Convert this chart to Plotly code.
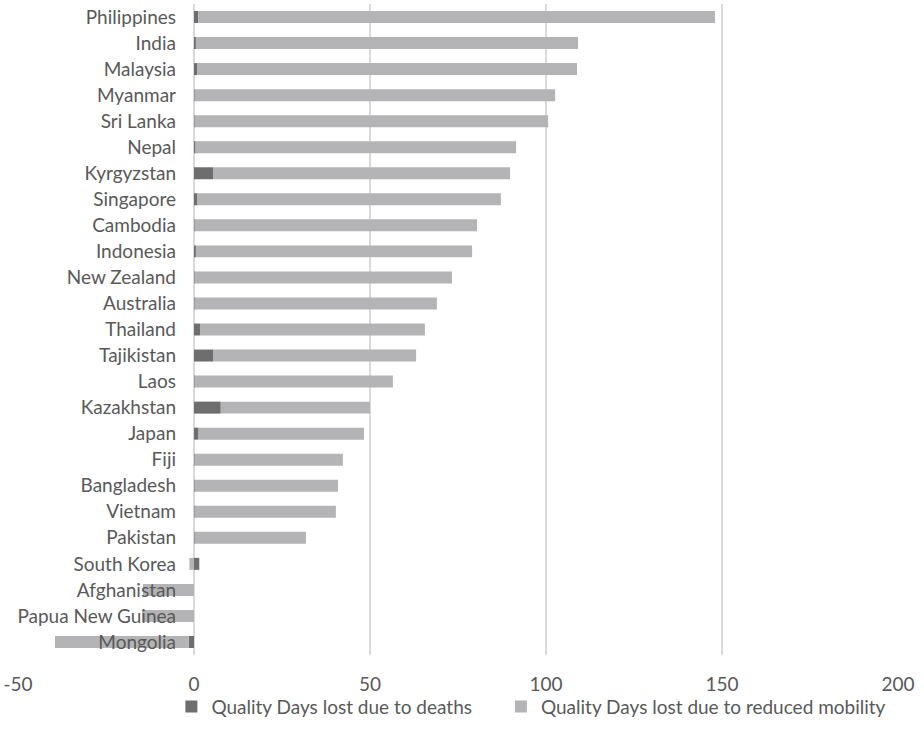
import plotly.graph_objects as go

countries = ["Philippines", "India", "Malaysia", "Myanmar", "Sri Lanka", "Nepal",
             "Kyrgyzstan", "Singapore", "Cambodia", "Indonesia", "New Zealand",
             "Australia", "Thailand", "Tajikistan", "Laos", "Kazakhstan", "Japan",
             "Fiji", "Bangladesh", "Vietnam", "Pakistan", "South Korea",
             "Afghanistan", "Papua New Guinea", "Mongolia"]
deaths = [1.2, 0.5, 1.0, 0.1, 0.1, 0.3, 5.4, 1.0, 0.1, 0.5, 0.1, 0.1, 1.7, 5.4,
          0.1, 7.6, 1.3, 0.1, 0.1, 0.1, 0.1, 1.5, 0.0, 0.0, -1.5]
mobility = [146.8, 108.6, 107.8, 102.5, 100.5, 91.2, 84.4, 86.2, 80.3, 78.5, 73.2,
            68.9, 63.9, 57.7, 56.4, 42.4, 47.0, 42.2, 40.8, 40.2, 31.7, -1.3,
            -14.5, -14.8, -38.0]
x_ticks = [-50, 0, 50, 100, 150, 200]

FONT = "Lato"
TXT = "#595959"
FS = 19

fig = go.Figure()
fig.add_trace(go.Bar(y=countries, x=deaths, orientation="h",
                     name="Quality Days lost due to deaths", legend="legend",
                     marker=dict(color="#6e6e6e", line=dict(width=0))))
fig.add_trace(go.Bar(y=countries, x=mobility, orientation="h",
                     name="Quality Days lost due to reduced mobility", legend="legend2",
                     marker=dict(color="#b4b4b6", line=dict(width=0))))

leg = dict(orientation="h", xanchor="left", y=-0.05, yanchor="top",
           font=dict(size=FS, color=TXT), bgcolor="rgba(0,0,0,0)")

fig.update_layout(
    barmode="relative",
    bargap=0.54,
    width=924, height=747,
    margin=dict(l=18, r=26, t=4, b=92),
    plot_bgcolor="white", paper_bgcolor="white",
    font=dict(family=FONT, size=FS, color=TXT),
    xaxis=dict(range=[-50, 200], tickvals=x_ticks, ticktext=[str(v) for v in x_ticks],
               showgrid=True, gridcolor="#d9d9d9", gridwidth=1.5,
               zeroline=True, zerolinecolor="#d9d9d9", zerolinewidth=1.5,
               showline=False, ticks="", tickfont=dict(size=FS, color=TXT),
               ticklabelstandoff=16),
    yaxis=dict(categoryorder="array", categoryarray=countries, autorange="reversed",
               anchor="free", position=0.2, showgrid=False, zeroline=False,
               showline=False, ticks="", tickfont=dict(size=FS, color=TXT),
               ticklabelstandoff=18),
    legend=dict(leg, x=0.1743),
    legend2=dict(leg, x=0.5488),
    showlegend=True,
)

fig.write_html("out.html")
